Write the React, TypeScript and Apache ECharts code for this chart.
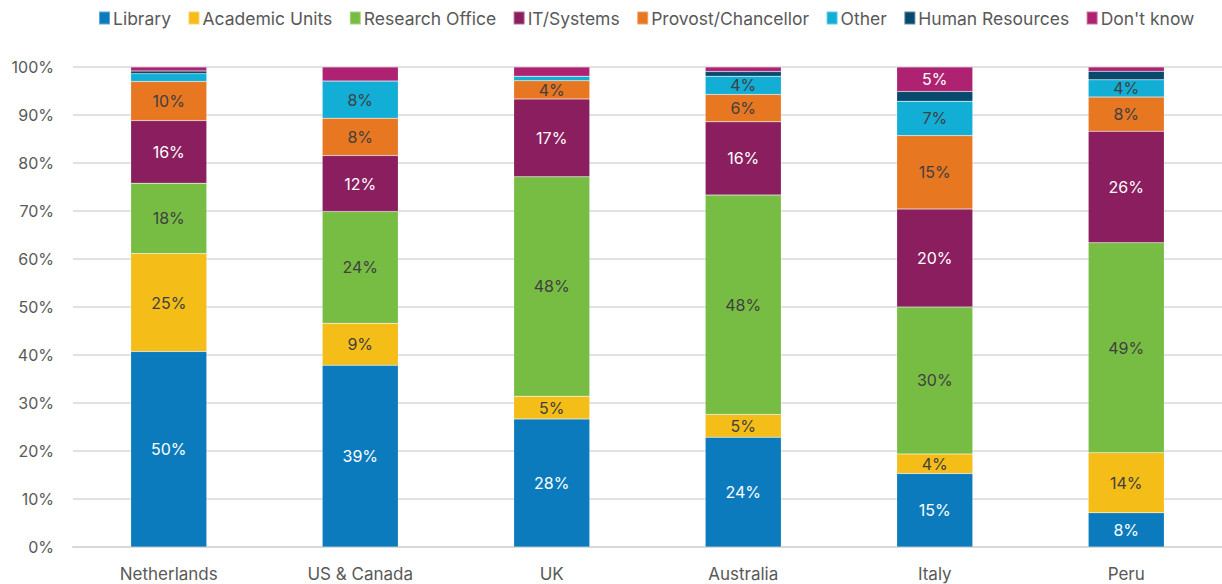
import React, { useEffect, useRef } from "react";
import * as echarts from "echarts";

const countries = ["Netherlands", "US & Canada", "UK", "Australia", "Italy", "Peru"];
const seriesNames = [
  "Library",
  "Academic Units",
  "Research Office",
  "IT/Systems",
  "Provost/Chancellor",
  "Other",
  "Human Resources",
  "Don't know",
];
// raw survey percentages (labels show these; bars are normalised to 100%)
const library = [50, 39, 28, 24, 15, 8];
const academicUnits = [25, 9, 5, 5, 4, 14];
const researchOffice = [18, 24, 48, 48, 30, 49];
const itSystems = [16, 12, 17, 16, 20, 26];
const provost = [10, 8, 4, 6, 15, 8];
const other = [2, 8, 1, 4, 7, 4];
const humanResources = [0.7, 0, 0, 1, 2, 2];
const dontKnow = [1, 3, 2, 1, 5, 1];
const yTicks = [0, 10, 20, 30, 40, 50, 60, 70, 80, 90, 100];

const rawSeries = [library, academicUnits, researchOffice, itSystems, provost, other, humanResources, dontKnow];
const colors = ["#0B7BBD", "#F5BD17", "#78BD43", "#8A1E5E", "#E87722", "#12AED6", "#074A6E", "#AF2272"];
const labelColors = ["#ffffff", "#404040", "#404040", "#ffffff", "#404040", "#404040", "#ffffff", "#ffffff"];

export default function App() {
  const ref = useRef<HTMLDivElement>(null);
  useEffect(() => {
    if (!ref.current) return;
    const chart = echarts.init(ref.current, undefined, { renderer: "svg" });
    const totals = countries.map((_, i) => rawSeries.reduce((s, arr) => s + arr[i], 0));
    const series = seriesNames.map((name, si) => ({
      name,
      type: "bar",
      stack: "total",
      barWidth: 76,
      data: rawSeries[si].map((v, i) => (v / totals[i]) * 100),
      itemStyle: { color: colors[si], borderColor: "rgba(255,255,255,0.35)", borderWidth: 0.5 },
      label: {
        show: true,
        position: "inside",
        fontFamily: "Inter",
        fontSize: 16,
        color: labelColors[si],
        formatter: (p: any) => {
          const raw = rawSeries[si][p.dataIndex];
          return raw >= 4 ? Math.round(raw) + "%" : "";
        },
      },
    }));
    chart.setOption({
      animation: false,
      textStyle: { fontFamily: "Inter" },
      legend: {
        data: seriesNames,
        left: 93,
        top: 4,
        icon: "rect",
        itemWidth: 11,
        itemHeight: 13,
        itemGap: 16.5,
        textStyle: { fontFamily: "Inter", fontSize: 17.5, color: "#595959", padding: [0, 0, 0, -2] },
      },
      grid: { left: 73, top: 67, width: 1152, height: 480, containLabel: false },
      xAxis: {
        type: "category",
        data: countries,
        axisTick: { show: false },
        axisLine: { lineStyle: { color: "#d9d9d9", width: 2 } },
        axisLabel: { fontFamily: "Inter", fontSize: 17, color: "#595959", margin: 18 },
      },
      yAxis: {
        type: "value",
        min: yTicks[0],
        max: yTicks[yTicks.length - 1],
        interval: 10,
        axisLine: { show: false },
        axisTick: { show: false },
        splitLine: { lineStyle: { color: "#d9d9d9", width: 1.5 } },
        axisLabel: { fontFamily: "Inter", fontSize: 16, color: "#595959", margin: 19, formatter: "{value}%" },
      },
      series,
    });
    return () => chart.dispose();
  }, []);
  return (
    <div
      ref={ref}
      style={{ position: "absolute", left: 0, top: 0, width: 1222, height: 584, background: "#fff" }}
    />
  );
}
